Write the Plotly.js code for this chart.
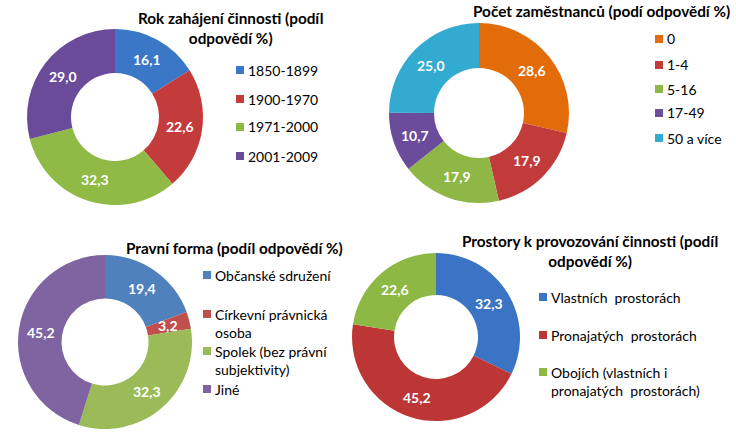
<!DOCTYPE html>
<html><head><meta charset="utf-8">
<script src="https://cdn.plot.ly/plotly-3.0.1.min.js"></script>
<style>html,body{margin:0;padding:0;background:#fff}#chart{width:736px;height:436px}</style>
</head><body><div id="chart"></div>
<script>
// ---- data ----
var rokLabels = ['1850-1899', '1900-1970', '1971-2000', '2001-2009'];
var rokValues = [16.1, 22.6, 32.3, 29.0];
var pocetLabels = ['0', '1-4', '5-16', '17-49', '50 a více'];
var pocetValues = [28.6, 17.9, 17.9, 10.7, 25.0];
var formaLabels = ['Občanské sdružení', 'Církevní právnická<br>osoba', 'Spolek (bez právní<br>subjektivity)', 'Jiné'];
var formaValues = [19.4, 3.2, 32.3, 45.2];
var prostoryLabels = ['Vlastních  prostorách', 'Pronajatých  prostorách', 'Obojích (vlastních i<br>pronajatých  prostorách)'];
var prostoryValues = [32.3, 45.2, 22.6];

var titles = ['Rok zahájení činnosti (podíl<br>odpovědí %)', 'Počet zaměstnanců (podí odpovědí %)',
              'Pravní forma (podíl odpovědí %)', 'Prostory k provozování činnosti (podíl<br>odpovědí %)'];

// ---- styling / layout ----
var W = 736, H = 436, HOLE = 0.5;
var FONT = 'Lato, "Open Sans", sans-serif';
var charts = [
  {labels: rokLabels, values: rokValues, cx: 115, cy: 117, r: 88,
   colors: ['#3b77c7', '#c33c3b', '#8fba45', '#6a4b99'],
   title: {x: 230, y: 28}, leg: {x: 236, ys: [70, 99, 127, 156]}},
  {labels: pocetLabels, values: pocetValues, cx: 479, cy: 113, r: 90,
   colors: ['#e36c0a', '#c23b3b', '#8fb745', '#6b4c9a', '#33aacf'],
   title: {x: 601, y: 11}, leg: {x: 655, ys: [39, 65, 89, 113, 138]}},
  {labels: formaLabels, values: formaValues, cx: 105, cy: 342, r: 87,
   colors: ['#4f81bd', '#c0504d', '#9bbb59', '#8064a2'],
   title: {x: 234, y: 248}, leg: {x: 203, ys: [275, 314, 351, 389]}},
  {labels: prostoryLabels, values: prostoryValues, cx: 436, cy: 337, r: 84,
   colors: ['#3b74c4', '#bd3636', '#8db843'],
   title: {x: 590, y: 250.5}, leg: {x: 539, ys: [297, 335, 372]}}
];

function px(x) { return x / W; }
function py(y) { return 1 - y / H; }
function fmt(v) { return v.toFixed(1).replace('.', ','); }

var data = [], annotations = [], shapes = [];
charts.forEach(function (c, i) {
  data.push({
    type: 'pie', labels: c.labels, values: c.values, hole: HOLE, sort: false,
    direction: 'clockwise', rotation: 0, textinfo: 'none',
    marker: {colors: c.colors, line: {color: '#ffffff', width: 0}},
    domain: {x: [px(c.cx - c.r), px(c.cx + c.r)], y: [py(c.cy + c.r), py(c.cy - c.r)]},
    showlegend: false, hoverinfo: 'label+value'
  });
  // data labels at mid-angle, mid-ring of each slice
  var total = c.values.reduce(function (a, b) { return a + b; }, 0);
  var cum = 0, rm = c.r * (1 + HOLE) / 2;
  c.values.forEach(function (v) {
    var a = 2 * Math.PI * (cum + v / 2) / total;
    cum += v;
    annotations.push({
      text: '<b>' + fmt(v) + '</b>', xref: 'paper', yref: 'paper',
      x: px(c.cx + rm * Math.sin(a)), y: py(c.cy - rm * Math.cos(a)),
      xanchor: 'center', yanchor: 'middle', showarrow: false,
      font: {family: FONT, size: 14, color: '#ffffff'}
    });
  });
  annotations.push({
    text: '<b>' + titles[i] + '</b>', xref: 'paper', yref: 'paper',
    x: px(c.title.x), y: py(c.title.y), xanchor: 'center', yanchor: 'middle',
    showarrow: false, align: 'center', font: {family: FONT, size: 15.3, color: '#000'}
  });
  c.labels.forEach(function (lab, k) {
    var yy = c.leg.ys[k];
    shapes.push({type: 'rect', xref: 'paper', yref: 'paper',
      x0: px(c.leg.x), x1: px(c.leg.x + 8), y0: py(yy + 4), y1: py(yy - 4),
      fillcolor: c.colors[k], line: {width: 0}});
    lab.split('<br>').forEach(function (ln, j) {
      annotations.push({
        text: ln, xref: 'paper', yref: 'paper', x: px(c.leg.x + 10), y: py(yy + j * 18.7),
        xanchor: 'left', yanchor: 'middle', showarrow: false,
        font: {family: FONT, size: 14, color: '#000'}
      });
    });
  });
});

var layout = {
  width: W, height: H, margin: {l: 0, r: 0, t: 0, b: 0},
  paper_bgcolor: '#ffffff', plot_bgcolor: '#ffffff', separators: ',.',
  annotations: annotations, shapes: shapes, showlegend: false
};
Plotly.newPlot('chart', data, layout, {displayModeBar: false, staticPlot: true});
</script></body></html>
